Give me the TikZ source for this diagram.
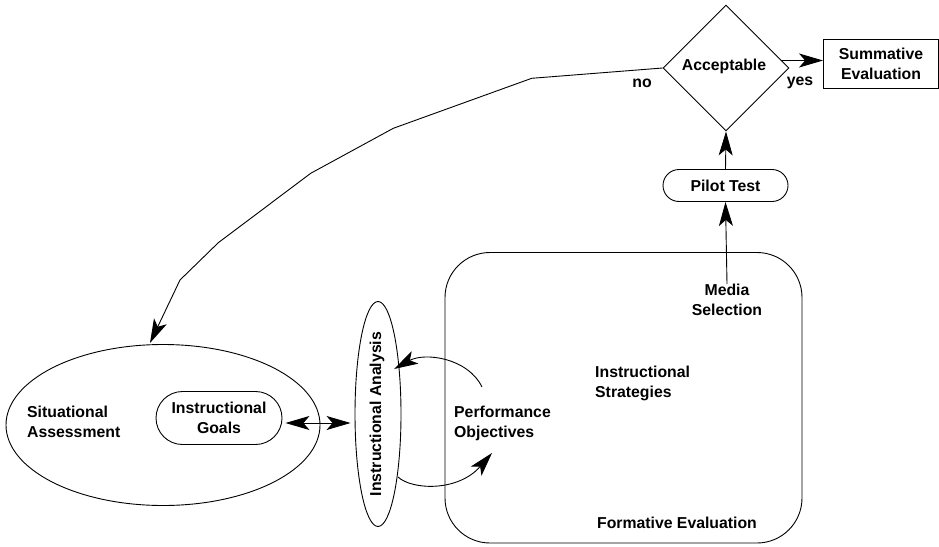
\documentclass[tikz,border=0pt]{standalone}
\usepackage{fontspec}
\setmainfont{Liberation Sans}
\usetikzlibrary{arrows.meta,shapes.geometric,shapes.misc}
\begin{document}
\begin{tikzpicture}[x=1pt,y=-1pt,
  every node/.style={font=\fontsize{15.8}{20}\selectfont\bfseries, inner sep=0pt},
  shp/.style={draw, line width=0.9pt},
  con/.style={line width=0.9pt},
  tipx/.tip={Stealth[length=24pt,width=14pt,inset=6pt]},
  arr/.style={con, -tipx},
  dbl/.style={con, tipx-tipx},
  lbl/.style={align=center},
  lbll/.style={align=left, anchor=west}]
\useasboundingbox (0,0) rectangle (939,546);
% shapes
\node[shp, diamond, minimum width=126pt, minimum height=126pt] (dia) at (726,68) {};
\node at (724,66.5) (acc) {Acceptable};
\node[shp, rectangle, minimum width=115pt, minimum height=49pt, lbl] (summ) at (881,64) {Summative\\Evaluation};
\node[shp, rounded rectangle, minimum width=125pt, minimum height=32pt] (pilot) at (725.5,185.5) {Pilot Test};
\node[shp, rectangle, rounded corners=45pt, minimum width=357pt, minimum height=290.5pt] (big) at (623.5,397.75) {};
\node[lbl] (media) at (727,300) {Media\\Selection};
\node[lbll] (strat) at (595,383) {Instructional\\Strategies};
\node (form) at (677,523) {Formative Evaluation};
\node[lbll] (po) at (454,423) {Performance\\Objectives};
\node[shp, ellipse, minimum width=314pt, minimum height=161pt] (sa) at (163,425) {};
\node[lbll] (sat) at (27,422) {Situational\\Assessment};
\node[shp, rounded rectangle, minimum width=126pt, minimum height=53pt, lbl] (goals) at (219,418) {Instructional\\Goals};
\node[shp, ellipse, minimum width=46pt, minimum height=225pt] (ia) at (378,414) {};
\node[rotate=90] (iat) at (377,414) {Instructional Analysis};
% labels
\node (no) at (642,83) {no};
\node (yes) at (800,83) {yes};
% connectors
\coordinate (yesstart) at (780.5,60.5);
\draw[arr] (yesstart) -- (yesstart -| summ.west);
\draw[arr] (pilot.north) -- (dia.south);
\draw[arr] (media.north) -- (pilot.south);
\coordinate (satop) at (150,343);
\draw[arr] (dia.west) -- (531.7,78.3) -- (393.3,128.3) -- (310.7,173.3) -- (218.3,242.7) -- (180,280) -- (satop);
\coordinate (g1) at ([xshift=3pt,yshift=-5pt]goals.east);
\draw[dbl] (g1) -- ([xshift=-4pt]g1 -| ia.west);
\coordinate (pa) at (482,387);
\coordinate (pb) at (394,369);
\draw[arr] (pa) .. controls (468,358) and (425,352) .. (pb);
\coordinate (pc) at (398,477);
\coordinate (pd) at (492,453);
\draw[arr] (pc) .. controls (412,490) and (458,492) .. (pd);
\end{tikzpicture}
\end{document}
